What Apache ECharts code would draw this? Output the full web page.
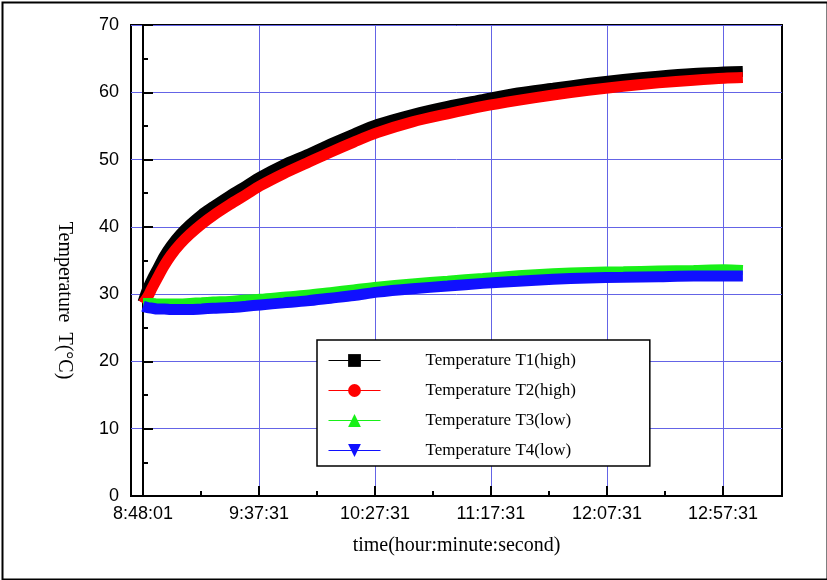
<!DOCTYPE html>
<html><head><meta charset="utf-8">
<script src="https://cdn.jsdelivr.net/npm/echarts@6/dist/echarts.min.js"></script>
<style>html,body{margin:0;padding:0;background:#fff}#c{width:827px;height:580px}</style>
</head><body><div id="c"></div>
<script>
// elapsed time since 8:48:01, in minutes
const elapsedMin = [0, 2, 4, 6, 9, 12, 16, 20, 25, 30, 37, 44, 50, 60, 70, 80, 90, 100, 115, 130, 145, 160, 175, 190, 205, 220, 235, 248, 256];
const t1High = [28.8, 30.8, 32.3, 33.6, 35.6, 37.2, 38.9, 40.3, 41.8, 43.0, 44.6, 46.1, 47.4, 49.2, 50.7, 52.3, 53.8, 55.2, 56.7, 57.9, 58.9, 59.9, 60.6, 61.3, 61.9, 62.4, 62.8, 63.0, 63.1];
const t2High = [28.6, 29.6, 31.0, 32.3, 34.2, 35.8, 37.5, 38.9, 40.4, 41.7, 43.3, 44.8, 46.1, 47.9, 49.5, 51.1, 52.6, 54.0, 55.6, 56.8, 57.9, 58.8, 59.6, 60.3, 60.9, 61.4, 61.8, 62.1, 62.2];
const t3Low = [28.7, 28.7, 28.7, 28.6, 28.6, 28.6, 28.6, 28.7, 28.8, 28.9, 29.0, 29.2, 29.3, 29.6, 29.9, 30.3, 30.7, 31.1, 31.6, 32.0, 32.4, 32.8, 33.1, 33.3, 33.4, 33.5, 33.6, 33.7, 33.6];
const t4Low = [28.2, 28.0, 27.9, 27.8, 27.8, 27.7, 27.7, 27.7, 27.8, 27.9, 28.0, 28.2, 28.4, 28.7, 29.0, 29.4, 29.8, 30.3, 30.8, 31.2, 31.6, 31.9, 32.2, 32.4, 32.5, 32.6, 32.7, 32.7, 32.7];

const seriesNames = ['Temperature T1(high)', 'Temperature T2(high)', 'Temperature T3(low)', 'Temperature T4(low)'];
const tickMinutes = [0, 49.5, 99, 148.5, 198, 247.5];
const tickLabels = ['8:48:01', '9:37:31', '10:27:31', '11:17:31', '12:07:31', '12:57:31'];
const minorTickMinutes = [24.75, 74.25, 123.75, 173.25, 222.75];
const xRange = [-5.12, 272.7];
const yTicks = [0, 10, 20, 30, 40, 50, 60, 70];

const zip = (ys) => elapsedMin.map((x, i) => [x, ys[i]]);
const chart = echarts.init(document.getElementById('c'), null, {renderer: 'canvas'});

const gridPos = {left: 131, right: 45, top: 25, bottom: 84};
const sans = 'Liberation Sans';
const serif = 'Liberation Serif';
const gridColor = '#6464e6';

function mkSeries(name, ys, color, symbol, width, rot) {
  return {
    name, type: 'line', data: zip(ys), xAxisIndex: 0, yAxisIndex: 0,
    showSymbol: false, symbol, symbolSize: 12, symbolRotate: rot || 0,
    smooth: 0.3, lineStyle: {color, width}, itemStyle: {color},
    silent: true, animation: false
  };
}

chart.setOption({
  animation: false,
  backgroundColor: '#fff',
  grid: [
    Object.assign({show: true, borderColor: '#000', borderWidth: 2, backgroundColor: 'transparent'}, gridPos),
    Object.assign({show: false}, gridPos)
  ],
  xAxis: [{
    type: 'value', gridIndex: 0, min: xRange[0], max: xRange[1],
    name: 'time(hour:minute:second)', nameLocation: 'middle', nameGap: 40,
    nameTextStyle: {fontFamily: serif, fontSize: 20, color: '#000'},
    axisLine: {show: true, lineStyle: {color: '#000', width: 2}},
    axisTick: {show: true, inside: true, length: 10, customValues: tickMinutes, lineStyle: {color: '#000', width: 2}},
    axisLabel: {customValues: tickMinutes, fontFamily: sans, fontSize: 18, color: '#000', margin: 9,
      formatter: (v) => { const i = tickMinutes.findIndex(t => Math.abs(t - v) < 1e-6); return i >= 0 ? tickLabels[i] : ''; }},
    splitLine: {show: true, lineStyle: {color: gridColor, width: 1}}
  }, {
    type: 'value', gridIndex: 1, min: xRange[0], max: xRange[1],
    axisLine: {show: false},
    axisTick: {show: true, inside: true, length: 5, customValues: minorTickMinutes, lineStyle: {color: '#000', width: 2}},
    axisLabel: {show: false}, splitLine: {show: false}
  }],
  yAxis: [{
    type: 'value', gridIndex: 0, min: yTicks[0], max: yTicks[yTicks.length - 1], interval: 10,
    name: 'Temperature  T(°C)', nameLocation: 'middle', nameGap: 57, nameRotate: -90,
    nameTextStyle: {fontFamily: serif, fontSize: 20, color: '#000', padding: [0, 0, 0, 80]},
    axisLine: {show: true, lineStyle: {color: '#000', width: 2}},
    axisTick: {show: true, inside: true, length: 10, lineStyle: {color: '#000', width: 2}},
    minorTick: {show: true, splitNumber: 2, length: 5, lineStyle: {color: '#000', width: 2}},
    axisLabel: {fontFamily: sans, fontSize: 18, color: '#000', margin: 12},
    splitLine: {show: true, lineStyle: {color: gridColor, width: 1}}
  }, {
    type: 'value', gridIndex: 1, min: 0, max: 70, show: false
  }],
  legend: {
    data: seriesNames, orient: 'vertical', left: 317, top: 340,
    padding: [12, 74, 7, 11], itemWidth: 52, itemHeight: 16, itemGap: 13,
    backgroundColor: '#fff', borderColor: '#000', borderWidth: 1.5, borderRadius: 0,
    lineStyle: {width: 1},
    selectedMode: false,
    textStyle: {fontFamily: serif, fontSize: 17, color: '#000',
      rich: {t: {fontFamily: serif, fontSize: 17, color: '#000', padding: [0, 0, 0, 40], lineHeight: 16}}},
    formatter: (n) => '{t|' + n + '}'
  },
  series: [
    mkSeries(seriesNames[0], t1High, '#000000', 'rect', 11),
    mkSeries(seriesNames[1], t2High, '#ff0000', 'circle', 11),
    mkSeries(seriesNames[2], t3Low, '#18f018', 'triangle', 10),
    mkSeries(seriesNames[3], t4Low, '#1010ff', 'triangle', 11, 180)
  ],
  graphic: [{
    type: 'rect', left: 0, top: 0, silent: true, z: 100,
    shape: {x: 1, y: 1, width: 825, height: 577},
    style: {fill: 'none', stroke: '#000', lineWidth: 2}
  }]
});
</script></body></html>
